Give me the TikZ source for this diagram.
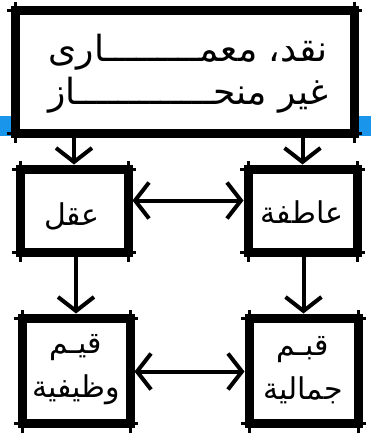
\documentclass[tikz,border=0pt]{standalone}
\usepackage{fontspec}
\newfontfamily\arabicfont[Script=Arabic]{DejaVu Sans}
\TeXXeTstate=1
\usetikzlibrary{arrows.meta}
\definecolor{stripe}{RGB}{25,150,235}
\newcommand\extlines[1]{%
  \draw[extl] ([xshift=-8pt]#1.north west) -- ([xshift=8pt]#1.north east);
  \draw[extl] ([xshift=-8pt]#1.south west) -- ([xshift=8pt]#1.south east);
  \draw[extl] ([yshift=8pt]#1.north west) -- ([yshift=-10pt]#1.south west);
  \draw[extl] ([yshift=8pt]#1.north east) -- ([yshift=-10pt]#1.south east);}
\begin{document}
\begin{tikzpicture}[x=1pt,y=-1pt,
  box/.style={draw, line width=9pt, fill=white, inner sep=0pt, outer sep=0pt, rectangle},
  lbl/.style={inner sep=0pt, align=center, font=\arabicfont\fontsize{30}{44}\selectfont},
  extl/.style={line width=3pt},
  arr/.style={line width=4pt, shorten >=4.5pt, -{Straight Barb[length=14pt,width=36pt]}},
  darr/.style={line width=4pt, shorten >=4.5pt, shorten <=4.5pt,
    {Straight Barb[length=14pt,width=36pt]}-{Straight Barb[length=14pt,width=36pt]}}]
\useasboundingbox (0,0) rectangle (371,445);
\fill[stripe] (0,116) rectangle (371,136);
\node[box, minimum width=339pt, minimum height=123pt] (top) at (184.5,71.5) {};
\node[box, minimum width=108pt, minimum height=83pt] (L2) at (74,210.5) {};
\node[box, minimum width=109pt, minimum height=83pt] (R2) at (302.5,210.5) {};
\node[box, minimum width=108pt, minimum height=105pt] (L3) at (76,370.5) {};
\node[box, minimum width=109pt, minimum height=105pt] (R3) at (303.5,370.5) {};
\node[lbl, font=\arabicfont\fontsize{36}{43}\selectfont] (topt) at (188,74)
  {\beginR نقد، معمـــــــــاری\endR\\\beginR غیر منحـــــــــــــاز\endR};
\node[lbl] (L2t) at (72,216) {\beginR عقل\endR};
\node[lbl] (R2t) at (302,212) {\beginR عاطفة\endR};
\node[lbl] (L3t) at (76,370) {\beginR قيـم\endR\\\beginR وظيفية\endR};
\node[lbl] (R3t) at (303,370) {\beginR قبـم\endR\\\beginR جمالية\endR};
\extlines{top}
\extlines{L2}
\extlines{R2}
\extlines{L3}
\extlines{R3}
\draw[arr] (top.south -| L2) -- (L2.north);
\draw[arr] (top.south -| R2) -- (R2.north);
\draw[arr] (L2.south -| L3) -- (L3.north);
\draw[arr] (R2.south -| R3) -- (R3.north);
\draw[darr] ([yshift=10pt]L2.east) -- ([yshift=10pt]R2.west);
\draw[darr] ([yshift=-1pt]L3.east) -- ([yshift=-1pt]R3.west);
\end{tikzpicture}
\end{document}
